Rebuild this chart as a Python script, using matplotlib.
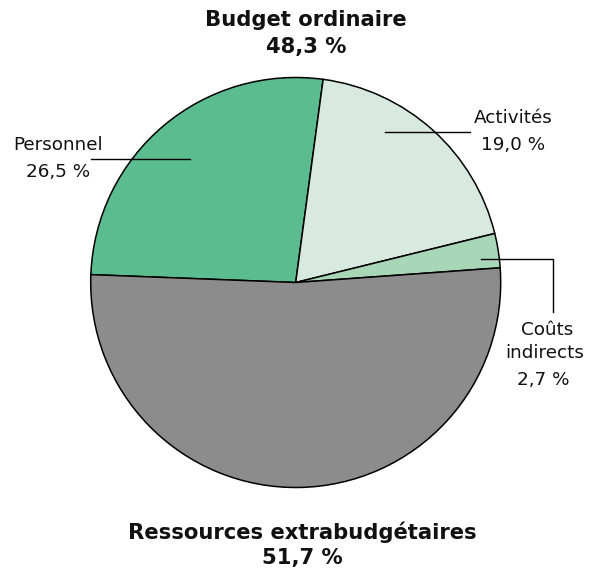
import matplotlib
matplotlib.use('Agg')
import matplotlib.pyplot as plt

# Budget breakdown (percent of total resources)
categories = ['Personnel', 'Activités', 'Coûts\nindirects', 'Ressources extrabudgétaires']
shares = [26.5, 19.0, 2.7, 51.7]
colors = ['#5BBD8F', '#D8EADF', '#A8D7B7', '#8C8C8C']
regular_total = 48.3

W, H = 594, 571
fig = plt.figure(figsize=(W / 100, H / 100), dpi=100)
ax = fig.add_axes([0, 0, 1, 1])

def fr(v):
    return f'{v:.1f}'.replace('.', ',') + ' %'

# pixel-style coordinates: y measured from the top
cx, cy, r = 295.7, H - 282.5, 205
ax.pie(shares, colors=colors, startangle=177.8, counterclock=False,
       center=(cx, cy), radius=r, frame=True,
       wedgeprops=dict(edgecolor='black', linewidth=1.1))
ax.set_xlim(0, W)
ax.set_ylim(0, H)
ax.set_aspect('equal')
ax.axis('off')

font = 'DejaVu Sans'
lab = dict(fontsize=13.2, family=font, ha='center', va='center', color='#111111')
ttl = dict(fontsize=15.2, family=font, ha='center', va='center', fontweight='bold', color='#111111')

# top and bottom headings
ax.text(306, H - 20, 'Budget ordinaire', **ttl)
ax.text(306, H - 47, fr(regular_total), **ttl)
ax.text(302, H - 532, categories[3], **ttl)
ax.text(302, H - 558, fr(shares[3]), **ttl)

# Personnel
ax.text(58, H - 145, categories[0], **lab)
ax.text(58, H - 172, fr(shares[0]), **lab)
ax.plot([91, 190], [H - 159, H - 159], color='black', lw=1)

# Activités
ax.text(513, H - 118, categories[1], **lab)
ax.text(513, H - 145, fr(shares[1]), **lab)
ax.plot([385, 470], [H - 132, H - 132], color='black', lw=1)

# Coûts indirects
top, bottom = categories[2].split('\n')
ax.text(547, H - 330, top, **lab)
ax.text(545, H - 353, bottom, **lab)
ax.text(543, H - 380, fr(shares[2]), **lab)
ax.plot([481, 553, 553], [H - 259, H - 259, H - 312], color='black', lw=1)

plt.savefig('out.png', dpi=100, facecolor='white')
